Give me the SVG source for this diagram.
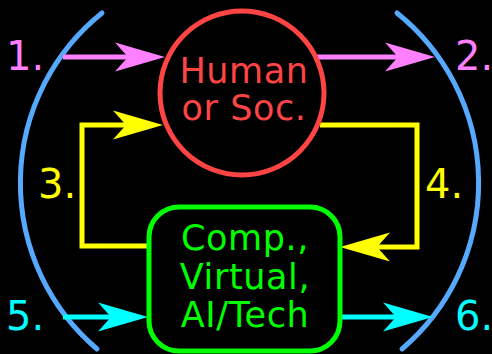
<svg xmlns="http://www.w3.org/2000/svg" width="492" height="354" viewBox="0 0 492 354">
<style>
.t{font-family:"DejaVu Sans","Liberation Sans",sans-serif}
.lbl{font-size:40px}
.nd{font-size:35px;text-anchor:middle;letter-spacing:0.6px}
.c{fill:none;stroke-width:5}
</style>
<defs>
<marker id="mP" markerUnits="userSpaceOnUse" markerWidth="54" markerHeight="34" viewBox="-52 -17 54 34" refX="-37" refY="0" orient="auto"><path d="M0,0 L-50,-14.5 L-37,0 L-50,14.5 Z" fill="#ff80ff"/></marker>
<marker id="mY" markerUnits="userSpaceOnUse" markerWidth="54" markerHeight="34" viewBox="-52 -17 54 34" refX="-37" refY="0" orient="auto"><path d="M0,0 L-50,-14.5 L-37,0 L-50,14.5 Z" fill="#ffff00"/></marker>
<marker id="mC" markerUnits="userSpaceOnUse" markerWidth="54" markerHeight="34" viewBox="-52 -17 54 34" refX="-37" refY="0" orient="auto"><path d="M0,0 L-50,-14.5 L-37,0 L-50,14.5 Z" fill="#00ffff"/></marker>
</defs>
<rect width="492" height="354" fill="#000"/>
<g id="brackets" fill="none" stroke="#55aaff" stroke-width="5" stroke-linecap="round">
<path d="M102,13 A218,218 0 0 0 97,349"/>
<path d="M397,13 A218,218 0 0 1 402,349"/>
</g>
<g id="connectors">
<path class="c" stroke="#ff80ff" d="M63,57 H128" marker-end="url(#mP)"/>
<path class="c" stroke="#ff80ff" d="M317,57 H398" marker-end="url(#mP)"/>
<path class="c" stroke="#ffff00" d="M150,246 H82 V125 H126" marker-end="url(#mY)"/>
<path class="c" stroke="#ffff00" d="M320,125 H417 V247 H377" marker-end="url(#mY)"/>
<path class="c" stroke="#00ffff" d="M63,317 H111" marker-end="url(#mC)"/>
<path class="c" stroke="#00ffff" d="M340,317 H396" marker-end="url(#mC)"/>
</g>
<g id="human">
<circle cx="242" cy="93" r="82" fill="none" stroke="#ff4444" stroke-width="5"/>
<text class="t nd" x="244" y="83" fill="#ff4444">Human</text>
<text class="t nd" x="244" y="120" fill="#ff4444">or Soc.</text>
</g>
<g id="comp">
<rect x="149" y="207" width="191" height="144" rx="30" ry="30" fill="none" stroke="#00ff00" stroke-width="5"/>
<text class="t nd" x="245" y="250" fill="#00ff00">Comp.,</text>
<text class="t nd" x="245" y="289" fill="#00ff00">Virtual,</text>
<text class="t nd" x="245" y="327" fill="#00ff00">AI/Tech</text>
</g>
<g id="labels" class="t lbl">
<text x="6" y="70" fill="#ff80ff">1.</text>
<text x="455" y="70" fill="#ff80ff">2.</text>
<text x="38" y="198" fill="#ffff00">3.</text>
<text x="425" y="198" fill="#ffff00">4.</text>
<text x="6" y="330" fill="#00ffff">5.</text>
<text x="455" y="330" fill="#00ffff">6.</text>
</g>
</svg>
